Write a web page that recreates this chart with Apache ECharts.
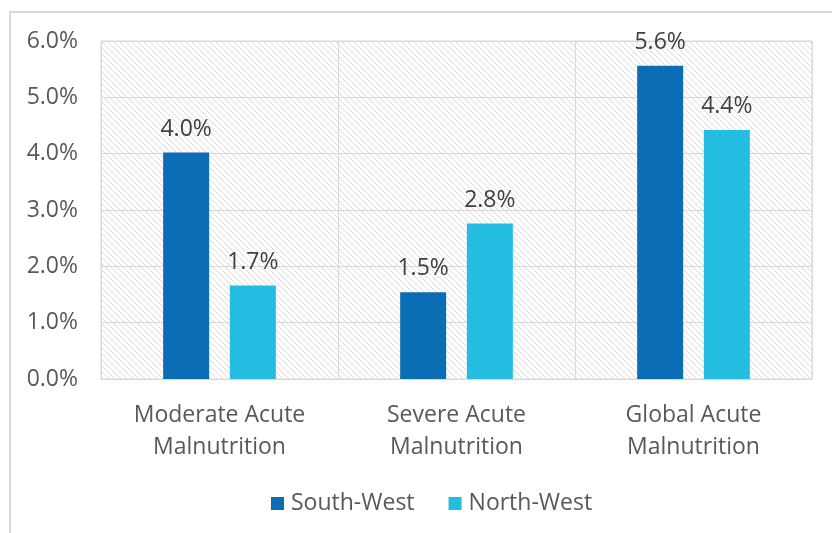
<!DOCTYPE html>
<html>
<head>
<meta charset="utf-8">
<script src="https://cdn.jsdelivr.net/npm/echarts/dist/echarts.min.js"></script>
<style>
  html, body { margin: 0; padding: 0; background: #fff; }
  #main { width: 832px; height: 533px; }
</style>
</head>
<body>
<div id="main"></div>
<script>
var categories = ['Moderate Acute\nMalnutrition', 'Severe Acute\nMalnutrition', 'Global Acute\nMalnutrition'];
var southWest = [4.02, 1.54, 5.56];
var northWest = [1.66, 2.76, 4.42];
var seriesNames = ['South-West', 'North-West'];

// hatch pattern for the plot background
var tile = document.createElement('canvas');
tile.width = 6;
tile.height = 6;
var ctx = tile.getContext('2d');
ctx.fillStyle = '#ffffff';
ctx.fillRect(0, 0, 6, 6);
ctx.strokeStyle = '#dadada';
ctx.lineWidth = 1;
ctx.beginPath();
ctx.moveTo(-1, -1); ctx.lineTo(7, 7);
ctx.moveTo(-7, -1); ctx.lineTo(1, 7);
ctx.moveTo(5, -1); ctx.lineTo(13, 7);
ctx.stroke();

var chartDom = document.getElementById('main');
var myChart = echarts.init(chartDom);
var option;

var fontFam = '"Open Sans", "Noto Sans", sans-serif';
var pctLabel = function (p) { return p.value.toFixed(1) + '%'; };

option = {
    animation: false,
    textStyle: { fontFamily: fontFam },
    graphic: {
        elements: [{
            type: 'rect',
            shape: { x: 10, y: 12, width: 900, height: 600 },
            style: { fill: 'none', stroke: '#d9d9d9', lineWidth: 2 },
            silent: true
        }]
    },
    grid: {
        left: 101,
        right: 20,
        top: 41,
        bottom: 154,
        show: true,
        borderColor: '#d9d9d9',
        borderWidth: 1,
        backgroundColor: { image: tile, repeat: 'repeat' }
    },
    legend: {
        top: 487,
        left: 266,
        itemWidth: 13,
        itemHeight: 13,
        itemGap: 34,
        icon: 'rect',
        textStyle: { fontSize: 23, color: '#595959', fontFamily: fontFam, padding: [0, 0, 0, 2] },
        data: seriesNames
    },
    xAxis: {
        type: 'category',
        data: categories,
        axisLine: { show: true, lineStyle: { color: '#d9d9d9' } },
        axisTick: { show: false },
        splitLine: { show: true, lineStyle: { color: '#d9d9d9' } },
        axisLabel: {
            fontSize: 23,
            lineHeight: 32,
            color: '#595959',
            margin: 20,
            interval: 0
        }
    },
    yAxis: {
        type: 'value',
        min: 0,
        max: 6,
        interval: 1,
        axisLine: { show: false },
        axisTick: { show: false },
        splitLine: { lineStyle: { color: '#d9d9d9' } },
        axisLabel: {
            fontSize: 23,
            color: '#595959',
            margin: 23,
            formatter: function (v) { return v.toFixed(1) + '%'; }
        }
    },
    series: [
        {
            name: seriesNames[0],
            type: 'bar',
            data: southWest,
            barWidth: 46,
            barGap: '45%',
            itemStyle: { color: '#0b6db3' },
            label: {
                show: true,
                position: 'top',
                distance: 12,
                fontSize: 23,
                color: '#404040',
                formatter: pctLabel
            }
        },
        {
            name: seriesNames[1],
            type: 'bar',
            data: northWest,
            barWidth: 46,
            barGap: '45%',
            itemStyle: { color: '#24bde1' },
            label: {
                show: true,
                position: 'top',
                distance: 12,
                fontSize: 23,
                color: '#404040',
                formatter: pctLabel
            }
        }
    ]
};

option && myChart.setOption(option);
</script>
</body>
</html>
